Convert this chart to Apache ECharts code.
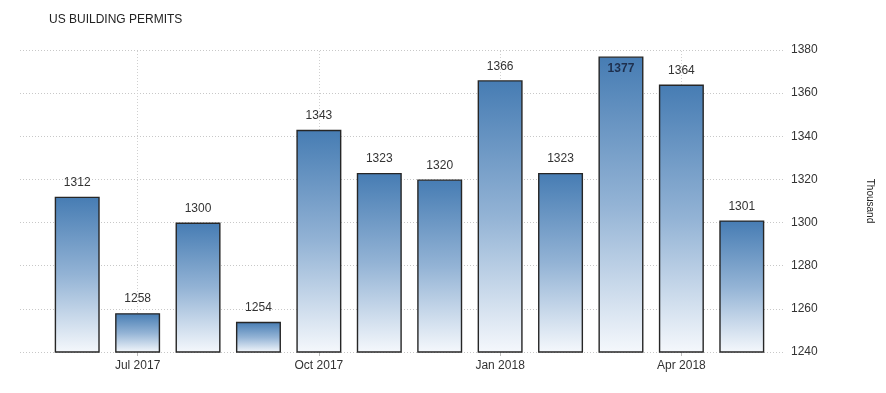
<!DOCTYPE html>
<html>
<head>
<meta charset="utf-8">
<script src="https://cdn.jsdelivr.net/npm/echarts@6/dist/echarts.min.js"></script>
<style>
html,body{margin:0;padding:0;background:#fff;}
#chart{width:886px;height:393px;}
</style>
</head>
<body>
<div id="chart"></div>
<script>
const categories = ["Jun 2017","Jul 2017","Aug 2017","Sep 2017","Oct 2017","Nov 2017","Dec 2017","Jan 2018","Feb 2018","Mar 2018","Apr 2018","May 2018"];
const permits = [1312, 1258, 1300, 1254, 1343, 1323, 1320, 1366, 1323, 1377, 1364, 1301];
const shownLabels = ["Jul 2017","Oct 2017","Jan 2018","Apr 2018"];
const yMin = 1240, yMax = 1380, yStep = 20;

const chart = echarts.init(document.getElementById('chart'), null, {renderer:'canvas'});
const font = 'Liberation Sans, Arial, sans-serif';
const showIdx = (i) => shownLabels.indexOf(categories[i]) >= 0;

const barData = permits.map(function (v) {
  const item = {value: v};
  if (v === Math.max.apply(null, permits)) {
    item.label = {position: 'insideTop', distance: 6, color: '#1e2f4d', fontWeight: 'bold'};
  }
  return item;
});

chart.setOption({
  animation: false,
  title: {
    text: 'US BUILDING PERMITS',
    left: 44, top: 9,
    textStyle: {fontFamily: font, fontSize: 12, fontWeight: 'normal', color: '#222'}
  },
  grid: [
    {left: 20, right: 101, top: 50, bottom: 41},
    {left: 47, right: 114, top: 50, bottom: 41}
  ],
  xAxis: [
    {gridIndex: 0, type: 'value', show: false, min: 0, max: 1},
    {
      gridIndex: 1, type: 'category', data: categories,
      axisLine: {show: false},
      axisTick: {show: true, alignWithLabel: true, length: 4, lineStyle: {color: '#bbb'},
        interval: function (i) { return showIdx(i); }},
      axisLabel: {margin: 8, fontFamily: font, fontSize: 12, color: '#333',
        interval: function (i) { return showIdx(i); }},
      splitLine: {show: false}
    }
  ],
  yAxis: [
    {
      gridIndex: 0, type: 'value', position: 'right',
      min: yMin, max: yMax, interval: yStep,
      axisLine: {show: false}, axisTick: {show: false},
      axisLabel: {margin: 6, fontFamily: font, fontSize: 12, color: '#333',
        formatter: function (v) { return String(v); }},
      splitLine: {show: true, lineStyle: {color: '#c8c8c8', type: [1, 2], width: 1}},
      name: 'Thousand', nameLocation: 'middle', nameRotate: -90, nameGap: 80,
      nameTextStyle: {fontFamily: font, fontSize: 10, color: '#222'}
    },
    {gridIndex: 1, type: 'value', show: false, min: yMin, max: yMax, interval: yStep}
  ],
  series: [{
    type: 'bar',
    xAxisIndex: 1, yAxisIndex: 1,
    data: barData,
    barWidth: 45,
    itemStyle: {
      color: new echarts.graphic.LinearGradient(0, 0, 0, 1, [
        {offset: 0, color: '#467cb3'},
        {offset: 0.5, color: '#93b3d5'},
        {offset: 1, color: '#f5f8fc'}
      ]),
      borderColor: '#262626',
      borderWidth: 1.4
    },
    label: {show: true, position: 'top', distance: 8, fontFamily: font, fontSize: 12, color: '#333'},
    markLine: {
      silent: true, symbol: 'none', label: {show: false}, z: 0,
      lineStyle: {color: '#d0d0d0', type: [1, 2], width: 1},
      data: shownLabels.map(function (c) { return {xAxis: c}; })
    },
    z: 3
  }]
});
</script>
</body>
</html>
